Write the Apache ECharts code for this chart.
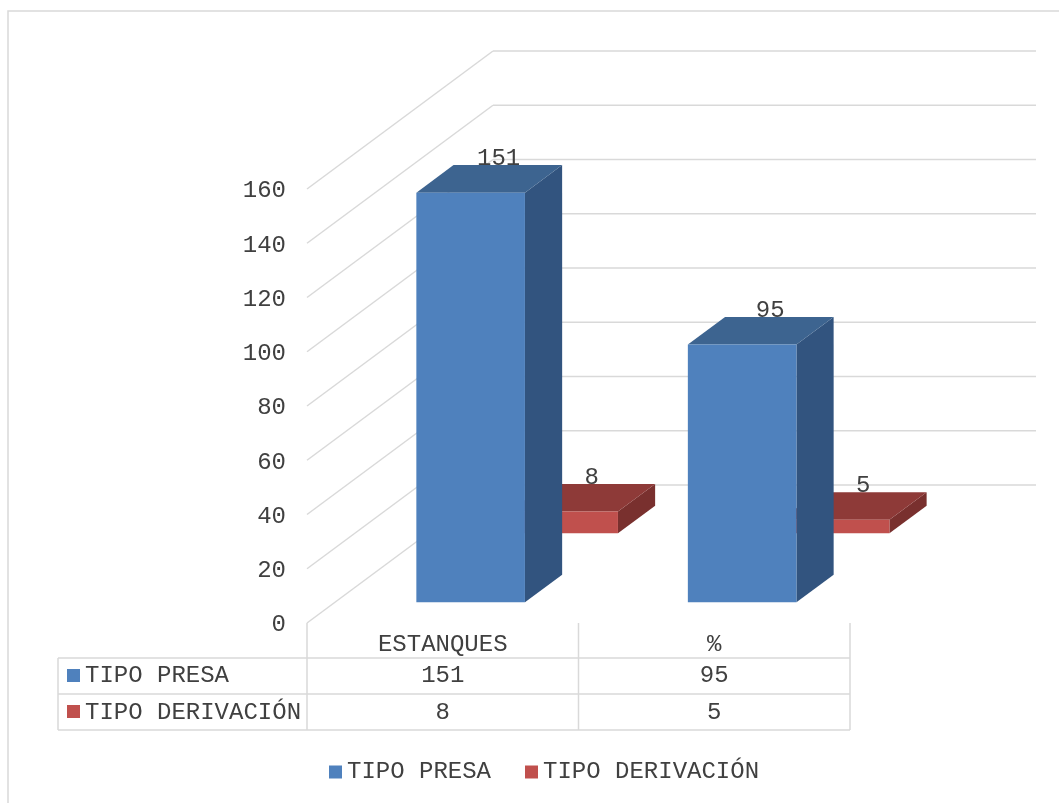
<!DOCTYPE html>
<html>
<head>
<meta charset="utf-8">
<script src="https://cdn.jsdelivr.net/npm/echarts@6/dist/echarts.min.js"></script>
<style>
html,body{margin:0;padding:0;background:#fff;}
#chart{width:1059px;height:803px;}
</style>
</head>
<body>
<div id="chart"></div>
<script>
const categories = ['ESTANQUES', '%'];
const presa = [151, 95];
const derivacion = [8, 5];
const yTicks = [0, 20, 40, 60, 80, 100, 120, 140, 160];
const seriesNames = ['TIPO PRESA', 'TIPO DERIVACIÓN'];

const FONT = 'Liberation Mono';
const TXT = '#404040';
const GRID = '#D9D9D9';
const DX = 186, DY = -138;

const blue = {front: '#4F81BD', top: '#3D6490', side: '#32547F'};
const red = {front: '#C0504D', top: '#8E3A38', side: '#79302E'};

function barRenderer(colors, df, db) {
  return function (params, api) {
    const i = api.value(0), v = api.value(1);
    const b = api.coord([i, 0]), t = api.coord([i, v]);
    const bw = api.size([1, 0])[0] * 0.4;
    const fx = b[0] - bw / 2 + DX * df;
    const fy0 = b[1] + DY * df, fy1 = t[1] + DY * df;
    const ex = DX * (db - df), ey = DY * (db - df);
    return {
      type: 'group',
      children: [
        {type: 'polygon', shape: {points: [[fx + bw, fy1], [fx + bw + ex, fy1 + ey], [fx + bw + ex, fy0 + ey], [fx + bw, fy0]]}, style: {fill: colors.side}},
        {type: 'polygon', shape: {points: [[fx, fy1], [fx + bw, fy1], [fx + bw + ex, fy1 + ey], [fx + ex, fy1 + ey]]}, style: {fill: colors.top}},
        {type: 'rect', shape: {x: fx, y: fy1, width: bw, height: fy0 - fy1}, style: {fill: colors.front}},
        {type: 'text', z2: 10, style: {text: String(v), x: fx + bw / 2 + 28, y: fy1 + ey + 6, align: 'center', verticalAlign: 'bottom', font: '24px "' + FONT + '"', fill: TXT}}
      ]
    };
  };
}

const chart = echarts.init(document.getElementById('chart'));
chart.setOption({
  backgroundColor: '#fff',
  animation: false,
  graphic: [{type: 'rect', shape: {x: 8, y: 11, width: 1200, height: 1000}, style: {fill: 'none', stroke: GRID, lineWidth: 1.5}, silent: true}],
  grid: {left: 307, top: 189, width: 543, height: 434},
  xAxis: {type: 'category', data: categories, axisLine: {show: false}, axisTick: {show: false}, axisLabel: {show: false}, splitLine: {show: false}},
  yAxis: {type: 'value', min: 0, max: 160, interval: 20, axisLine: {show: false}, axisTick: {show: false}, splitLine: {show: false},
    axisLabel: {show: false}},
  legend: {data: seriesNames, left: 329, top: 760, padding: 0, icon: 'rect', itemWidth: 13, itemHeight: 13, itemGap: 34,
    textStyle: {fontFamily: FONT, fontSize: 24, color: TXT}},
  series: [
    {
      name: 'wall', type: 'custom', silent: true,
      data: yTicks.map(v => [0, v]),
      renderItem: function (params, api) {
        const cs = params.coordSys;
        const v = api.value(1);
        const y = api.coord([0, v])[1];
        const x0 = cs.x;
        return {type: 'group', children: [
          {type: 'line', shape: {x1: x0, y1: y, x2: x0 + DX, y2: y + DY}, style: {stroke: GRID, lineWidth: 1.5}},
          {type: 'line', shape: {x1: x0 + DX, y1: y + DY, x2: x0 + cs.width + DX, y2: y + DY}, style: {stroke: GRID, lineWidth: 1.5}},
          {type: 'text', style: {text: String(v), x: x0 - 21, y: y + 2, align: 'right', verticalAlign: 'middle', font: '24px "' + FONT + '"', fill: TXT}}
        ]};
      }
    },
    {
      name: seriesNames[1], type: 'custom', itemStyle: {color: red.front},
      data: derivacion.map((v, i) => [i, v]),
      renderItem: barRenderer(red, 0.65, 0.85)
    },
    {
      name: seriesNames[0], type: 'custom', itemStyle: {color: blue.front},
      data: presa.map((v, i) => [i, v]),
      renderItem: barRenderer(blue, 0.15, 0.35)
    },
    {
      name: 'table', type: 'custom', silent: true,
      data: categories.map((c, i) => [i, 0]),
      renderItem: function (params, api) {
        const cs = params.coordSys;
        const i = api.value(0);
        const cx = api.coord([i, 0])[0];
        const colW = api.size([1, 0])[0];
        const top = cs.y + cs.height;
        const r1 = top + 35, r2 = top + 71, r3 = top + 107;
        const font = '24px "' + FONT + '"';
        const ls = {stroke: GRID, lineWidth: 1.5};
        const ch = [
          {type: 'line', shape: {x1: cx + colW / 2, y1: top, x2: cx + colW / 2, y2: r3}, style: ls},
          {type: 'text', style: {text: categories[i], x: cx, y: top + 22, align: 'center', verticalAlign: 'middle', font: font, fill: TXT}},
          {type: 'text', style: {text: String(presa[i]), x: cx, y: r1 + 18, align: 'center', verticalAlign: 'middle', font: font, fill: TXT}},
          {type: 'text', style: {text: String(derivacion[i]), x: cx, y: r2 + 19, align: 'center', verticalAlign: 'middle', font: font, fill: TXT}}
        ];
        if (i === 0) {
          const L = 58, R = cs.x + cs.width;
          ch.push(
            {type: 'line', shape: {x1: cs.x, y1: top, x2: cs.x, y2: r3}, style: ls},
            {type: 'line', shape: {x1: L, y1: r1, x2: L, y2: r3}, style: ls},
            {type: 'line', shape: {x1: L, y1: r1, x2: R, y2: r1}, style: ls},
            {type: 'line', shape: {x1: L, y1: r2, x2: R, y2: r2}, style: ls},
            {type: 'line', shape: {x1: L, y1: r3, x2: R, y2: r3}, style: ls},
            {type: 'rect', shape: {x: 67, y: r1 + 11, width: 13, height: 13}, style: {fill: blue.front}},
            {type: 'rect', shape: {x: 67, y: r2 + 11, width: 13, height: 13}, style: {fill: red.front}},
            {type: 'text', style: {text: seriesNames[0], x: 85, y: r1 + 18, align: 'left', verticalAlign: 'middle', font: font, fill: TXT}},
            {type: 'text', style: {text: seriesNames[1], x: 85, y: r2 + 19, align: 'left', verticalAlign: 'middle', font: font, fill: TXT}}
          );
        }
        return {type: 'group', children: ch};
      }
    }
  ]
});
</script>
</body>
</html>
